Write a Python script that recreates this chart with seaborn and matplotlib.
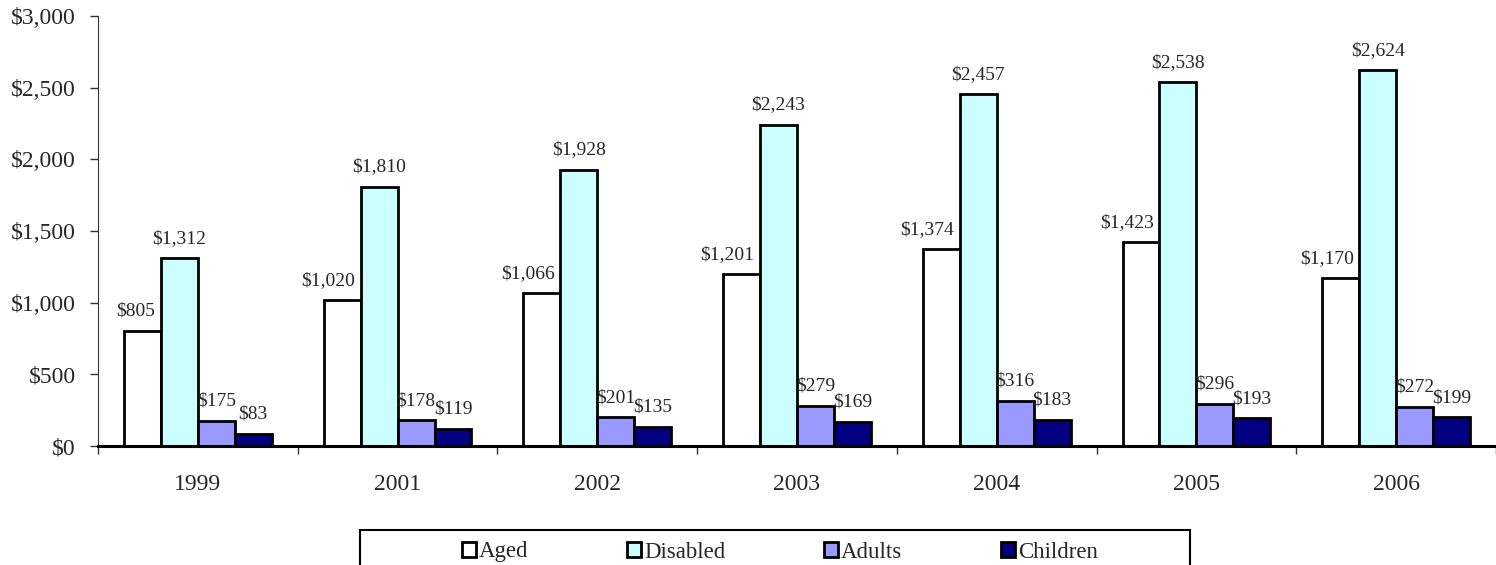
import pandas as pd
import matplotlib.pyplot as plt
import seaborn as sns
from matplotlib.patches import Rectangle
from matplotlib.ticker import FuncFormatter, FixedLocator

# Dados
anos = ["1999", "2001", "2002", "2003", "2004", "2005", "2006"]
aged = [805, 1020, 1066, 1201, 1374, 1423, 1170]
disabled = [1312, 1810, 1928, 2243, 2457, 2538, 2624]
adults = [175, 178, 201, 279, 316, 296, 272]
children = [83, 119, 135, 169, 183, 193, 199]

grupos = ["Aged", "Disabled", "Adults", "Children"]
cores = ["#FFFFFF", "#CCFFFF", "#9999FF", "#000080"]

df = pd.DataFrame({"Aged": aged, "Disabled": disabled, "Adults": adults,
                   "Children": children, "ano": anos})
df_long = df.melt(id_vars="ano", var_name="grupo", value_name="valor")

sns.set_style("white")
plt.rcParams["font.family"] = ["Liberation Serif", "DejaVu Serif"]

W, H = 1496, 565
fig = plt.figure(figsize=(W / 100, H / 100), dpi=100)
ax = fig.add_axes([98 / W, 1 - 446 / H, 1 - 98 / W, (446 - 16) / H])

sns.barplot(data=df_long, x="ano", y="valor", hue="grupo", hue_order=grupos,
            palette=cores, edgecolor="black", linewidth=2, width=0.74,
            saturation=1, ax=ax, legend=True)

fmt = lambda v: f"${v:,.0f}"
# rótulos do grupo "Aged" ficam encostados à direita da barra (como no Excel)
for barra, v in zip(ax.containers[0], ax.containers[0].datavalues):
    ax.annotate(fmt(v), xy=(barra.get_x() + barra.get_width(), barra.get_height()),
                xytext=(-4, 8), textcoords="offset points", ha="right",
                va="bottom", fontsize=14)
for cont in ax.containers[1:]:
    ax.bar_label(cont, labels=[fmt(v) for v in cont.datavalues],
                 padding=8, fontsize=14)

ax.set_xlim(-0.5, len(anos) - 0.5)
ax.set_ylim(0, 3000)
ax.set_yticks(range(0, 3001, 500))
ax.yaxis.set_major_formatter(FuncFormatter(lambda v, p: fmt(v)))
ax.tick_params(axis="y", direction="out", length=6, width=1, labelsize=17,
               left=True, color="#333333", pad=10)
ax.tick_params(axis="x", which="major", length=0, labelsize=17, pad=20)
ax.xaxis.set_minor_locator(FixedLocator([i - 0.5 for i in range(len(anos) + 1)]))
ax.tick_params(axis="x", which="minor", direction="out", length=6, width=1,
               bottom=True, color="#333333")
ax.set_xlabel("")
ax.set_ylabel("")

sns.despine(ax=ax, top=True, right=True)
ax.spines["left"].set_color("#333333")
ax.spines["bottom"].set_color("black")
ax.spines["bottom"].set_linewidth(2.2)

# legenda sem moldura + caixa desenhada à parte (mais larga que o conteúdo)
handles, labels = ax.get_legend_handles_labels()
ax.get_legend().remove()
leg = fig.legend(handles, labels, loc="center", ncol=4,
                 bbox_to_anchor=(780 / W, 1 - 552 / H),
                 frameon=False, fontsize=16.5, handlelength=0.6,
                 handleheight=0.6, handletextpad=0.15, columnspacing=4.3)
for h in leg.legend_handles:
    h.set_linewidth(2)
fig.patches.append(Rectangle((360 / W, -0.05), 830 / W, 0.05 + 1 - 530 / H,
                             transform=fig.transFigure, fill=False,
                             edgecolor="black", linewidth=1.5))

fig.savefig("out.png", dpi=100)
